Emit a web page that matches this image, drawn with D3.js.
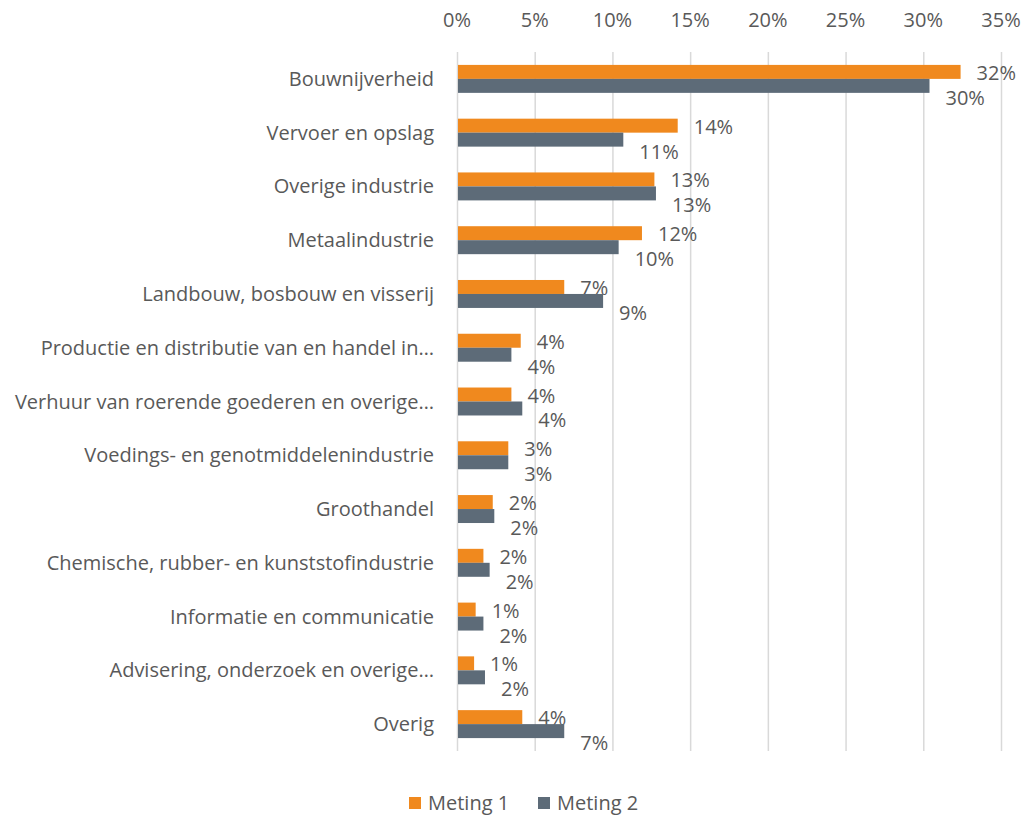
<!DOCTYPE html>
<html>
<head>
<meta charset="utf-8">
<script src="https://cdn.jsdelivr.net/npm/d3@7"></script>
<style>
  body { margin: 0; background: #fff; }
  text { font-family: "Open Sans", "Noto Sans", sans-serif; fill: #595959; }
</style>
</head>
<body>
<div id="chart"></div>
<script>
// Sectoren, twee metingen (aandeel in %)
const categories = [
  "Bouwnijverheid",
  "Vervoer en opslag",
  "Overige industrie",
  "Metaalindustrie",
  "Landbouw, bosbouw en visserij",
  "Productie en distributie van en handel in…",
  "Verhuur van roerende goederen en overige…",
  "Voedings- en genotmiddelenindustrie",
  "Groothandel",
  "Chemische, rubber- en kunststofindustrie",
  "Informatie en communicatie",
  "Advisering, onderzoek en overige…",
  "Overig"
];
const meting1 = [32.4, 14.2, 12.7, 11.9, 6.9, 4.1, 3.5, 3.3, 2.3, 1.7, 1.2, 1.1, 4.2];
const meting2 = [30.4, 10.7, 12.8, 10.4, 9.4, 3.5, 4.2, 3.3, 2.4, 2.1, 1.7, 1.8, 6.9];
const seriesNames = ["Meting 1", "Meting 2"];
const seriesColors = ["#F0891E", "#5D6B78"];
const xTicks = [0, 5, 10, 15, 20, 25, 30, 35];

const width = 1025, height = 817;
const margin = { top: 52, right: 24, bottom: 66, left: 457 };
const fs = 20;

const svg = d3.select("#chart").append("svg")
  .attr("width", width).attr("height", height);

const x = d3.scaleLinear().domain([0, 35]).range([margin.left, 1001]);
const y = d3.scaleBand().domain(categories).range([margin.top, height - margin.bottom]).paddingInner(0.48).paddingOuter(0.24);
const sub = d3.scaleBand().domain(seriesNames).range([0, y.bandwidth()]);

// gridlines
svg.append("g").selectAll("line").data(xTicks).join("line")
  .attr("x1", d => x(d) + 0.5).attr("x2", d => x(d) + 0.5)
  .attr("y1", margin.top).attr("y2", height - margin.bottom)
  .attr("stroke", "#d9d9d9").attr("stroke-width", 1.5);

// top axis labels
svg.append("g").selectAll("text").data(xTicks).join("text")
  .attr("x", d => x(d)).attr("y", 20).attr("dy", "0.35em")
  .attr("text-anchor", "middle").attr("font-size", fs)
  .text(d => d + "%");

// category labels
svg.append("g").selectAll("text").data(categories).join("text")
  .attr("x", 434).attr("y", d => y(d) + y.bandwidth() / 2)
  .attr("dy", "0.35em").attr("text-anchor", "end").attr("font-size", fs)
  .text(d => d);

const series = [meting1, meting2];
series.forEach((vals, si) => {
  const g = svg.append("g");
  g.selectAll("rect").data(vals).join("rect")
    .attr("x", x(0) + 1)
    .attr("y", (d, i) => y(categories[i]) + sub(seriesNames[si]))
    .attr("width", d => x(d) - x(0) - 1)
    .attr("height", sub.bandwidth())
    .attr("fill", seriesColors[si]);
  g.selectAll("text").data(vals).join("text")
    .attr("x", d => x(d) + 16)
    .attr("y", (d, i) => y(categories[i]) + sub(seriesNames[si]) + sub.bandwidth() / 2 + (si === 0 ? 1 : 12))
    .attr("dy", "0.35em").attr("font-size", fs)
    .text(d => Math.round(d) + "%");
});

// legend
const legend = svg.append("g").attr("transform", "translate(409, 803)");
const items = [{ x: 0 }, { x: 129 }];
seriesNames.forEach((name, i) => {
  legend.append("rect").attr("x", items[i].x).attr("y", -6).attr("width", 12).attr("height", 12)
    .attr("fill", seriesColors[i]);
  legend.append("text").attr("x", items[i].x + 19).attr("y", 0).attr("dy", "0.35em")
    .attr("font-size", fs).text(name);
});
</script>
</body>
</html>
